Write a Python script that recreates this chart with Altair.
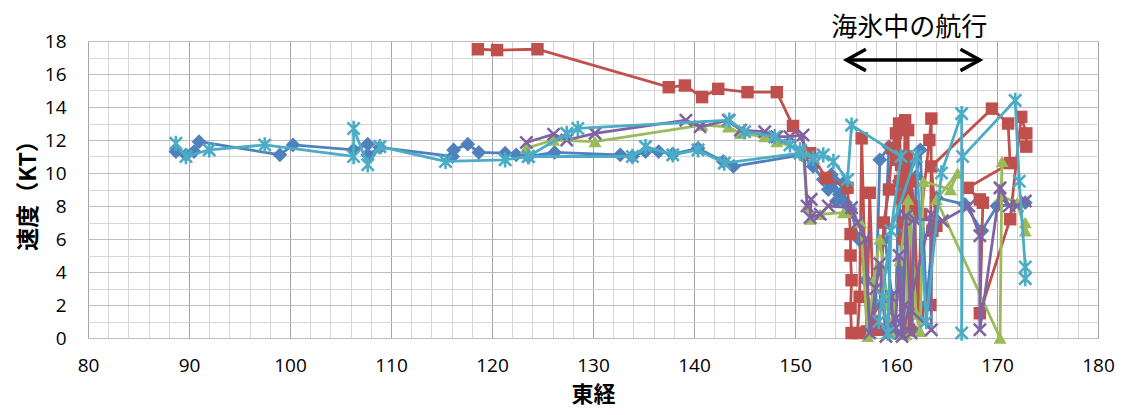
import altair as alt
import pandas as pd

# ---------------- data (east longitude, speed in knots) ----------------
blue_lon = [88.7, 89.7, 90.5, 91.0, 99.0, 100.3, 106.3, 107.7, 107.7, 108.9,
            116.1, 116.2, 117.6, 118.7, 121.3, 122.4, 123.6, 126.2, 132.7, 133.9,
            135.2, 136.5, 137.9, 140.4, 142.9, 143.9, 150.7, 151.8, 152.8, 153.3,
            153.8, 154.4, 153.6, 154.1, 154.8, 155.0, 155.5, 156.3, 157.0, 157.6,
            158.0, 158.4, 159.3, 158.9, 159.6, 159.9, 160.3, 160.7, 161.2, 161.6,
            162.0, 162.4, 163.0, 164.0, 166.8, 168.5, 170.0, 172.8]
blue_spd = [11.3, 11.1, 11.3, 11.9, 11.1, 11.7, 11.4, 11.75, 11.1, 11.55,
            11.0, 11.4, 11.75, 11.25, 11.2, 11.1, 11.0, 11.25, 11.1, 11.0,
            11.3, 11.3, 11.15, 11.5, 10.7, 10.4, 11.1, 10.4, 9.6, 9.0,
            9.6, 8.7, 9.9, 8.3, 9.4, 8.2, 7.8, 6.0, 3.5, 0.5,
            2.0, 10.8, 11.6, 6.0, 2.5, 0.3, 9.5, 1.0, 10.5, 0.5,
            9.8, 11.4, 2.0, 8.5, 8.1, 6.5, 8.0, 8.2]

red_lon = [118.6, 120.5, 124.5, 137.5, 139.1, 140.8, 142.4, 145.3, 148.2, 149.8,
           151.5, 153.1, 155.2, 155.5, 155.5, 155.6, 155.5, 155.6, 156.2, 156.4,
           156.6, 157.1, 157.4, 157.8, 158.3, 158.8, 159.3, 159.6, 160.0, 160.2,
           160.4, 160.3, 160.6, 160.5, 160.8, 160.7, 160.9, 161.0, 161.1, 161.2,
           161.3, 161.5, 161.8, 162.2, 162.5, 163.3, 163.5, 163.4, 163.6, 164.0,
           163.5, 169.5, 171.1, 171.3, 167.1, 168.3, 168.6, 168.3, 171.3, 172.4,
           172.9, 172.9]
red_spd = [17.5, 17.45, 17.5, 15.2, 15.3, 14.6, 15.1, 14.9, 14.9, 12.85,
           11.2, 9.7, 9.1, 6.3, 5.0, 3.5, 1.8, 0.3, 0.3, 2.5,
           12.1, 0.4, 8.8, 1.0, 0.5, 7.0, 9.0, 11.5, 12.4, 10.8,
           9.5, 13.0, 8.5, 10.5, 7.0, 6.0, 13.2, 9.8, 11.0, 12.6,
           0.5, 9.5, 8.0, 1.5, 7.5, 12.0, 13.3, 2.0, 6.5, 6.8,
           10.4, 13.9, 13.0, 10.6, 9.1, 8.4, 8.2, 1.5, 7.2, 13.4,
           12.4, 11.6]

green_lon = [123.4, 126.1, 130.2, 140.8, 143.4, 144.6, 147.0, 148.2, 150.8, 151.2,
             151.5, 152.5, 154.8, 156.5, 157.2, 157.8, 158.4, 159.2, 159.5, 160.4,
             161.2, 161.0, 161.4, 162.0, 162.4, 162.7, 165.4, 166.1, 164.0, 170.3,
             170.5, 170.4, 172.0, 172.8, 172.8]
green_spd = [11.5, 12.0, 11.9, 12.9, 12.8, 12.4, 12.2, 11.9, 11.4, 8.0,
             7.2, 7.5, 7.6, 7.0, 0.1, 3.5, 6.0, 2.0, 0.3, 4.7,
             8.4, 0.2, 7.5, 1.5, 0.4, 9.5, 9.0, 10.0, 8.4, 0.0,
             10.7, 8.6, 8.2, 6.5, 7.0]

purple_lon = [123.4, 126.1, 127.4, 130.2, 139.2, 140.6, 143.4, 144.6, 147.0, 148.2,
              149.5, 150.8, 151.2, 151.6, 151.5, 152.5, 153.3, 155.6, 156.2, 157.0,
              157.4, 158.0, 158.4, 159.0, 159.5, 159.8, 160.0, 160.3, 160.5, 160.9,
              163.5, 163.5, 160.6, 161.0, 161.5, 161.8, 164.6, 167.2, 168.3, 168.3,
              170.3, 171.2, 172.0, 172.8]
purple_spd = [11.85, 12.35, 12.0, 12.4, 13.2, 12.8, 13.2, 12.6, 12.5, 12.2,
              12.2, 12.3, 8.0, 8.4, 7.3, 7.5, 8.0, 7.9, 7.0, 6.0,
              0.3, 3.0, 4.5, 0.1, 2.5, 0.5, 1.2, 5.0, 0.3, 2.0,
              0.5, 7.5, 0.1, 7.4, 0.3, 7.2, 7.1, 8.0, 6.2, 0.5,
              9.1, 8.0, 8.0, 8.3]

aqua_lon = [88.7, 89.7, 92.0, 97.5, 106.3, 106.3, 107.7, 108.9, 115.4, 121.3,
            123.6, 133.9, 135.2, 137.9, 140.4, 143.0, 150.5, 151.8, 152.8, 153.8,
            155.2, 155.6, 160.5, 158.3, 158.7, 159.2, 159.5, 162.0, 163.0, 164.5,
            166.5, 166.5, 166.6, 171.8, 172.2, 172.8, 172.8]
aqua_spd = [11.8, 11.0, 11.4, 11.7, 11.0, 12.7, 10.5, 11.6, 10.7, 10.8,
            11.0, 11.0, 11.6, 11.1, 11.4, 10.6, 11.2, 10.9, 11.1, 10.7,
            9.6, 12.9, 11.0, 1.0, 2.5, 0.3, 6.5, 11.0, 1.0, 10.0,
            13.6, 0.3, 11.0, 14.4, 9.5, 4.3, 3.6]

aqua2_lon = [123.6, 127.4, 128.5, 143.5, 145.0, 148.0, 149.5, 150.5]
aqua2_spd = [11.0, 12.4, 12.7, 13.2, 12.5, 12.2, 11.7, 11.4]

x_ticks = list(range(80, 181, 2))
y_ticks = list(range(0, 19, 1))

annot_text = "海氷中の航行"
annot_lon = 161.3
arrow_lon = [155.1, 168.3]
arrow_spd = 16.85

# ---------------- styling ----------------
JP = "Noto Sans CJK JP"
NUM = "Open Sans"

xscale = alt.Scale(domain=[80, 180], nice=False, zero=False)
yscale = alt.Scale(domain=[0, 18], nice=False, zero=True)

xaxis = alt.Axis(
    values=x_ticks,
    labelExpr="datum.value % 10 === 0 ? datum.label : ''",
    grid=True,
    gridColor={"condition": {"test": "datum.value % 10 === 0", "value": "#a3a3a3"},
               "value": "#d6d6d6"},
    gridWidth=1,
    ticks=False, domain=False,
    labelFont=NUM, labelFontSize=19, labelColor="#000000", labelPadding=18,
    labelOverlap=False, labelFlush=False,
    title="東経", titleFont=JP, titleFontSize=22, titleFontWeight="bold",
    titleColor="#000000", titlePadding=9,
)
yaxis = alt.Axis(
    values=y_ticks,
    labelExpr="datum.value % 2 === 0 ? datum.label : ''",
    grid=True,
    gridColor={"condition": {"test": "datum.value % 2 === 0", "value": "#bdbdbd"},
               "value": "#d6d6d6"},
    gridWidth=1,
    ticks=False, domain=False,
    labelFont=NUM, labelFontSize=19, labelColor="#000000", labelPadding=22,
    labelOverlap=False, labelFlush=False,
    title="速度（KT）", titleFont=JP, titleFontSize=23, titleFontWeight="bold",
    titleColor="#000000", titlePadding=4,
)

X_SHAPE = "M-1,-1L1,1M-1,1L1,-1"
STAR_SHAPE = "M-1,-1L1,1M-1,1L1,-1M0,-1.25L0,1.25"

series = [
    (blue_lon, blue_spd, "#4F81BD", "diamond", 220, True),
    (red_lon, red_spd, "#C0504D", "square", 155, True),
    (green_lon, green_spd, "#9BBB59", "triangle-up", 170, True),
    (purple_lon, purple_spd, "#8064A2", X_SHAPE, 150, False),
    (aqua_lon, aqua_spd, "#4BACC6", STAR_SHAPE, 150, False),
    (aqua2_lon, aqua2_spd, "#4BACC6", STAR_SHAPE, 150, False),
]

layers = []
for lon, spd, color, shape, size, filled in series:
    df = pd.DataFrame({"lon": lon, "spd": spd, "i": list(range(len(lon)))})
    base = alt.Chart(df).encode(
        x=alt.X("lon:Q", scale=xscale, axis=xaxis),
        y=alt.Y("spd:Q", scale=yscale, axis=yaxis),
        order=alt.Order("i:Q"),
    )
    layers.append(base.mark_line(color=color, strokeWidth=2.8))
    if filled:
        pts = base.mark_point(shape=shape, size=size, filled=True, color=color, opacity=1)
    else:
        pts = base.mark_point(shape=shape, size=size, filled=False, color=color,
                              strokeWidth=2.6, opacity=1)
    layers.append(pts)

# annotation arrow
arrow_line = alt.Chart().mark_rule(color="#000000", strokeWidth=3.5).encode(
    x=alt.datum(arrow_lon[0], scale=xscale, axis=xaxis),
    x2=alt.datum(arrow_lon[1]),
    y=alt.datum(arrow_spd, scale=yscale, axis=yaxis),
)
left_head = alt.Chart().mark_point(
    shape="M1,-0.55L0,0L1,0.55", size=1500, filled=False, color="#000000",
    strokeWidth=3.5, opacity=1,
).encode(
    x=alt.datum(arrow_lon[0], scale=xscale, axis=xaxis),
    y=alt.datum(arrow_spd, scale=yscale, axis=yaxis),
)
right_head = alt.Chart().mark_point(
    shape="M-1,-0.55L0,0L-1,0.55", size=1500, filled=False, color="#000000",
    strokeWidth=3.5, opacity=1,
).encode(
    x=alt.datum(arrow_lon[1], scale=xscale, axis=xaxis),
    y=alt.datum(arrow_spd, scale=yscale, axis=yaxis),
)
annot = alt.Chart().mark_text(
    text=annot_text, font=JP, fontSize=26, color="#000000",
    align="center", baseline="middle",
).encode(
    x=alt.datum(annot_lon, scale=xscale, axis=xaxis),
    y=alt.value(-13),
)

chart = alt.layer(*layers, arrow_line, left_head, right_head, annot).properties(
    width=1010, height=297,
    autosize=alt.AutoSizeParams(type="none"),
    padding={"left": 80, "top": 33, "right": 18, "bottom": 69},
).configure_view(
    stroke="#a3a3a3", strokeWidth=1
).configure(background="#ffffff")

chart.save("out.html", embed_options={"renderer": "svg", "actions": False})
